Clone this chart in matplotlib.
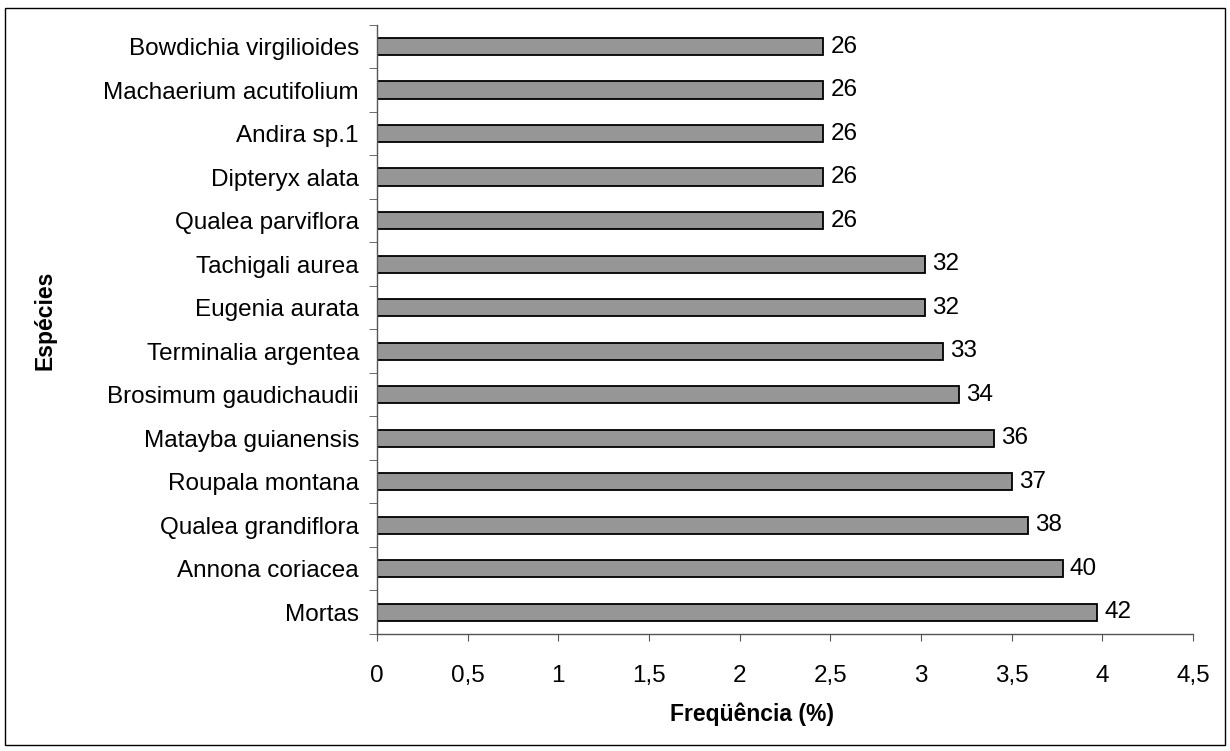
import matplotlib
matplotlib.use('Agg')
import matplotlib.pyplot as plt
import numpy as np
from matplotlib.patches import Rectangle

# species, bottom to top
especies = ['Mortas', 'Annona coriacea', 'Qualea grandiflora', 'Roupala montana',
            'Matayba guianensis', 'Brosimum gaudichaudii', 'Terminalia argentea',
            'Eugenia aurata', 'Tachigali aurea', 'Qualea parviflora', 'Dipteryx alata',
            'Andira sp.1', 'Machaerium acutifolium', 'Bowdichia virgilioides']
freq = [3.97, 3.78, 3.59, 3.50, 3.40, 3.21, 3.12, 3.02, 3.02, 2.46, 2.46, 2.46, 2.46, 2.46]
contagem = [42, 40, 38, 37, 36, 34, 33, 32, 32, 26, 26, 26, 26, 26]
xticks = [0, 0.5, 1, 1.5, 2, 2.5, 3, 3.5, 4, 4.5]
xticklabels = ['0', '0,5', '1', '1,5', '2', '2,5', '3', '3,5', '4', '4,5']

plt.rcParams['font.family'] = ['Liberation Sans', 'DejaVu Sans']
fs = 17.5

fig = plt.figure(figsize=(12.3, 7.51), dpi=100)
ax = fig.add_axes([0.3065, 0.1558, 0.6635, 0.811])

y = np.arange(len(especies))
ax.barh(y, freq, height=0.4, color='#969696', edgecolor='black', linewidth=1.3)
for yi, v, c in zip(y, freq, contagem):
    ax.text(v + 0.04, yi, str(c), va='center', ha='left', fontsize=fs)

ax.set_xlim(0, 4.5)
ax.set_ylim(-0.5, len(especies) - 0.5)
ax.set_xticks(xticks)
ax.set_xticklabels(xticklabels)
ax.set_yticks(y)
ax.set_yticklabels(especies)
ax.set_yticks(np.arange(len(especies) + 1) - 0.5, minor=True)
ax.tick_params(axis='y', which='major', length=0, pad=13, labelsize=fs)
ax.tick_params(axis='y', which='minor', length=6, color='#555555')
ax.tick_params(axis='x', length=5, color='#555555', pad=17, labelsize=fs)

for s in ['top', 'right']:
    ax.spines[s].set_visible(False)
for s in ['left', 'bottom']:
    ax.spines[s].set_color('#555555')
    ax.spines[s].set_linewidth(1.0)

fig.text(752 / 1230, 1 - 714 / 751, 'Freqüência (%)', ha='center', va='center',
         fontsize=16.5, fontweight='bold')
fig.text(45 / 1230, 1 - 320 / 751, 'Espécies', ha='center', va='center',
         fontsize=16.5, fontweight='bold', rotation=90)

fig.patches.append(Rectangle((5 / 1230, 6 / 751), 1220 / 1230, 737 / 751,
                             transform=fig.transFigure, fill=False,
                             edgecolor='black', linewidth=1.0))

fig.savefig('out.png', dpi=100)
